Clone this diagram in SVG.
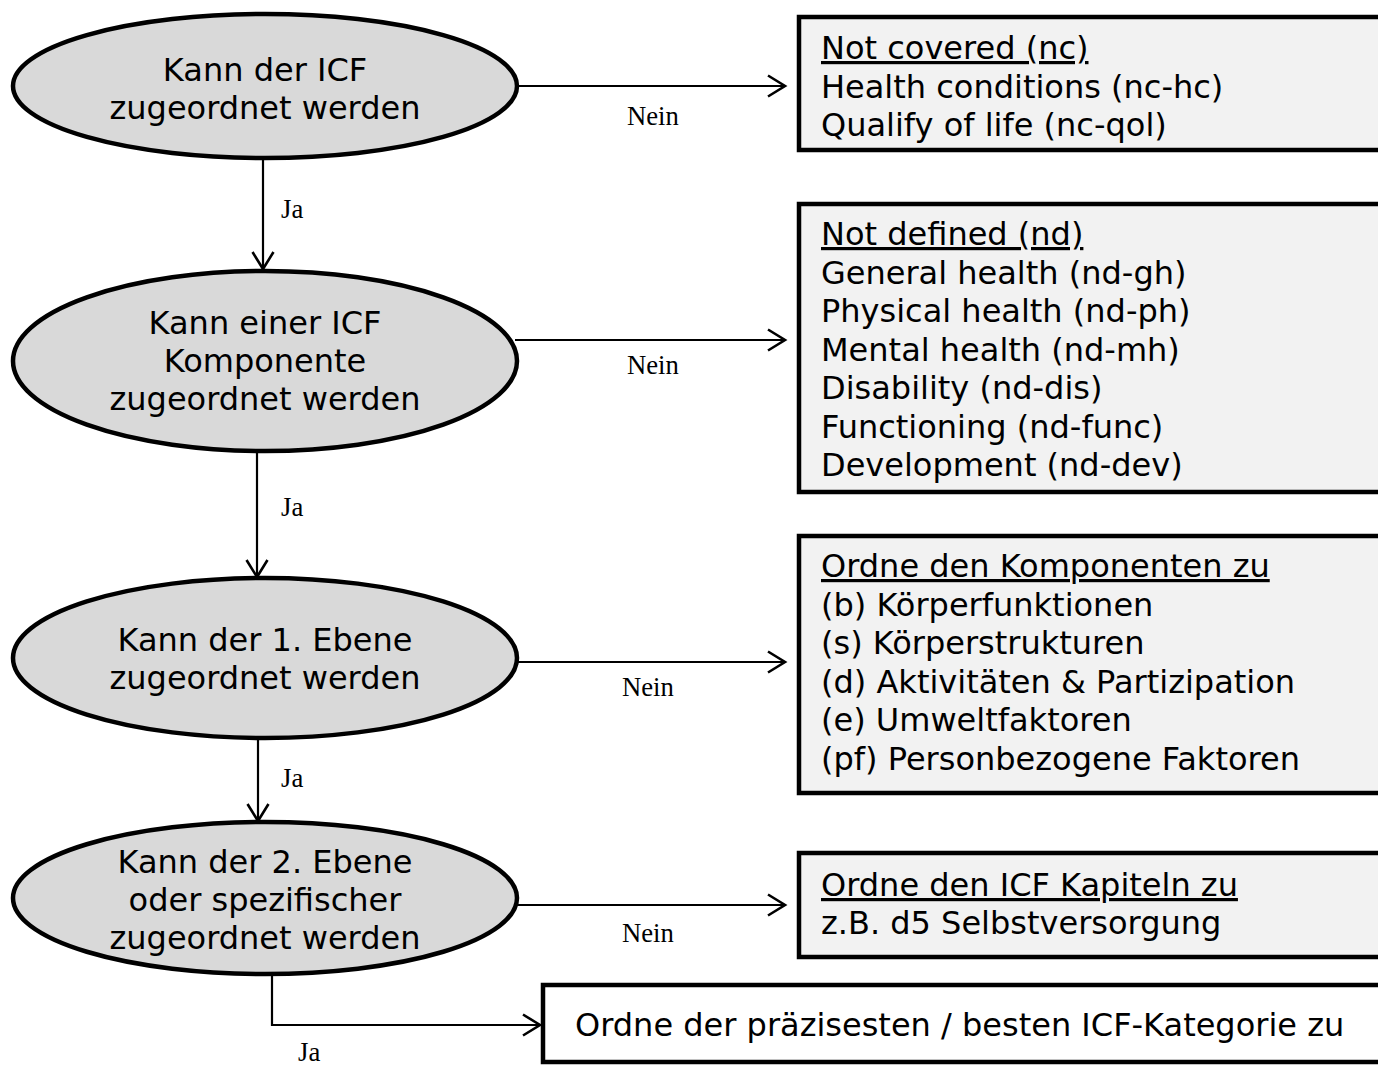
<svg xmlns="http://www.w3.org/2000/svg" width="1378" height="1065" viewBox="0 0 1378 1065">
<style>
.ell{fill:#d9d9d9;stroke:#000;stroke-width:4.5}
.box{fill:#f2f2f2;stroke:#000;stroke-width:4.5}
.boxw{fill:#fff;stroke:#000;stroke-width:4.5}
.t{font-family:"DejaVu Sans",Verdana,sans-serif;font-size:32px;fill:#000}
.c{text-anchor:middle}
.u{text-decoration:underline}
.lbl{font-family:"Liberation Serif","Times New Roman",serif;font-size:26.7px;fill:#000}
.con{fill:none;stroke:#000;stroke-width:2.2}
</style>
<defs>
<marker id="arr" viewBox="0 0 24 24" markerWidth="24" markerHeight="24" refX="21" refY="12" orient="auto" markerUnits="userSpaceOnUse">
<path d="M4,1.5 L21,12 L4,22.5" fill="none" stroke="#000" stroke-width="2.6"/>
</marker>
</defs>
<rect width="1378" height="1065" fill="#fff"/>

<g id="connectors">
<line class="con" x1="517" y1="86" x2="785" y2="86" marker-end="url(#arr)"/>
<line class="con" x1="263" y1="158" x2="263" y2="269" marker-end="url(#arr)"/>
<line class="con" x1="515" y1="340" x2="785" y2="340" marker-end="url(#arr)"/>
<line class="con" x1="257" y1="451" x2="257" y2="577" marker-end="url(#arr)"/>
<line class="con" x1="517" y1="662" x2="785" y2="662" marker-end="url(#arr)"/>
<line class="con" x1="258" y1="738" x2="258" y2="821" marker-end="url(#arr)"/>
<line class="con" x1="517" y1="905" x2="785" y2="905" marker-end="url(#arr)"/>
<polyline class="con" points="272,973 272,1025 540,1025" marker-end="url(#arr)"/>
<text class="lbl" x="627" y="125">Nein</text>
<text class="lbl" x="281" y="218">Ja</text>
<text class="lbl" x="627" y="374">Nein</text>
<text class="lbl" x="281" y="516">Ja</text>
<text class="lbl" x="622" y="696">Nein</text>
<text class="lbl" x="281" y="787">Ja</text>
<text class="lbl" x="622" y="942">Nein</text>
<text class="lbl" x="298" y="1061">Ja</text>
</g>

<g id="q1">
<ellipse class="ell" cx="265" cy="86" rx="252" ry="72"/>
<text class="t c" x="265" y="81">Kann der ICF</text>
<text class="t c" x="265" y="119">zugeordnet werden</text>
</g>
<g id="q2">
<ellipse class="ell" cx="265" cy="361" rx="252" ry="90"/>
<text class="t c" x="265" y="334">Kann einer ICF</text>
<text class="t c" x="265" y="372">Komponente</text>
<text class="t c" x="265" y="410">zugeordnet werden</text>
</g>
<g id="q3">
<ellipse class="ell" cx="265" cy="658" rx="252" ry="80"/>
<text class="t c" x="265" y="651">Kann der 1. Ebene</text>
<text class="t c" x="265" y="689">zugeordnet werden</text>
</g>
<g id="q4">
<ellipse class="ell" cx="265" cy="898" rx="252" ry="76"/>
<text class="t c" x="265" y="873">Kann der 2. Ebene</text>
<text class="t c" x="265" y="911">oder spezifischer</text>
<text class="t c" x="265" y="949">zugeordnet werden</text>
</g>

<g id="nc">
<rect class="box" x="799" y="17" width="620" height="133"/>
<text class="t u" x="821" y="59">Not covered (nc)</text>
<text class="t" x="821" y="98">Health conditions (nc-hc)</text>
<text class="t" x="821" y="136">Qualify of life (nc-qol)</text>
</g>
<g id="nd">
<rect class="box" x="799" y="204" width="620" height="288"/>
<text class="t u" x="821" y="245">Not defined (nd)</text>
<text class="t" x="821" y="284">General health (nd-gh)</text>
<text class="t" x="821" y="322">Physical health (nd-ph)</text>
<text class="t" x="821" y="361">Mental health (nd-mh)</text>
<text class="t" x="821" y="399">Disability (nd-dis)</text>
<text class="t" x="821" y="438">Functioning (nd-func)</text>
<text class="t" x="821" y="476">Development (nd-dev)</text>
</g>
<g id="komp">
<rect class="box" x="799" y="536" width="620" height="257"/>
<text class="t u" x="821" y="577">Ordne den Komponenten zu</text>
<text class="t" x="821" y="616">(b) Körperfunktionen</text>
<text class="t" x="821" y="654">(s) Körperstrukturen</text>
<text class="t" x="821" y="693">(d) Aktivitäten &amp; Partizipation</text>
<text class="t" x="821" y="731">(e) Umweltfaktoren</text>
<text class="t" x="821" y="770">(pf) Personbezogene Faktoren</text>
</g>
<g id="kap">
<rect class="box" x="799" y="853" width="620" height="104"/>
<text class="t u" x="821" y="896">Ordne den ICF Kapiteln zu</text>
<text class="t" x="821" y="934">z.B. d5 Selbstversorgung</text>
</g>
<g id="kat">
<rect class="boxw" x="543" y="985" width="876" height="77"/>
<text class="t" x="575" y="1036">Ordne der präzisesten / besten ICF-Kategorie zu</text>
</g>
</svg>
